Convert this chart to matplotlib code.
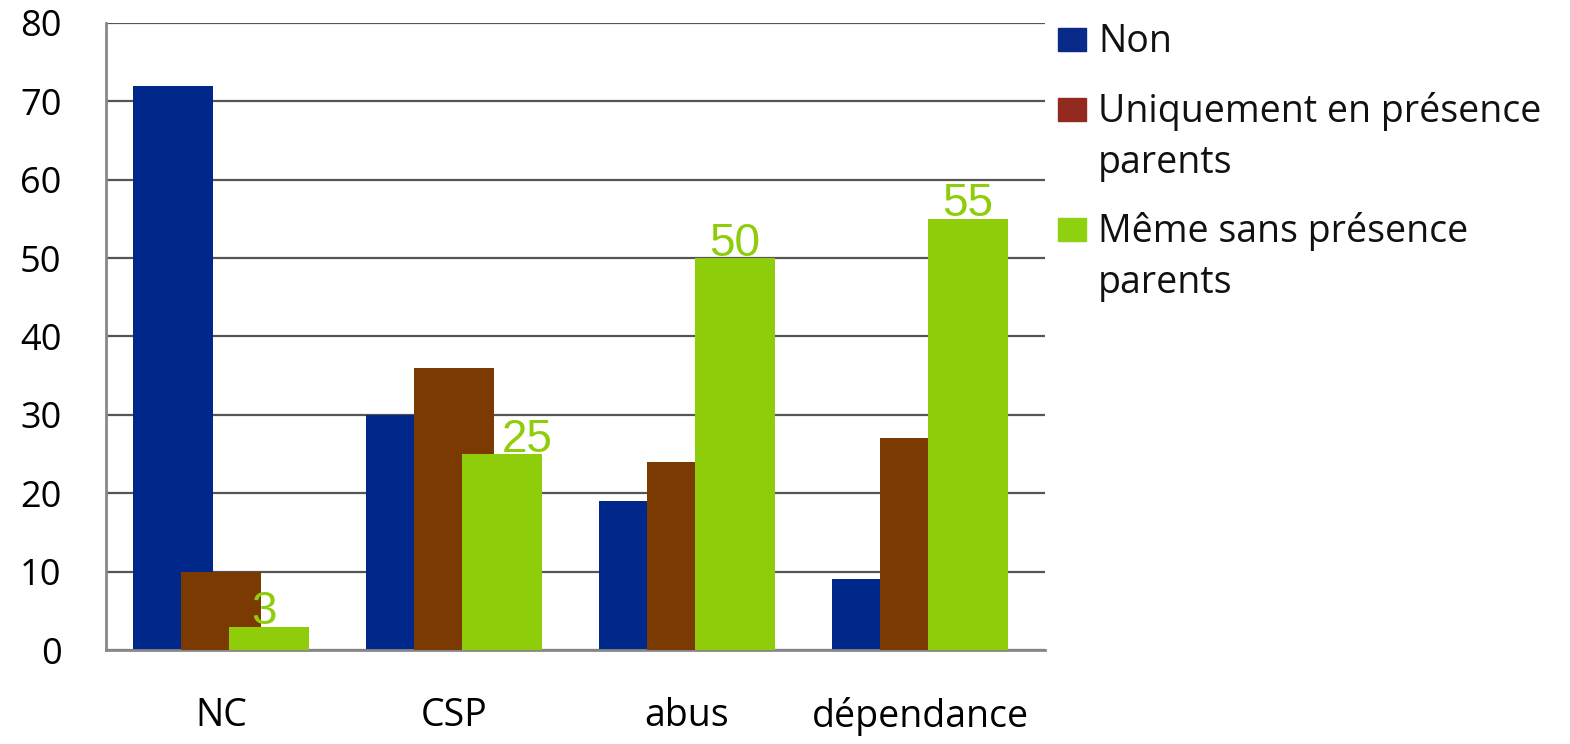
import numpy as np
import matplotlib.pyplot as plt
from matplotlib.patches import Rectangle

# data
categories = ['NC', 'CSP', 'abus', 'dépendance']
non = [72, 30, 19, 9]
uniquement = [10, 36, 24, 27]
meme_sans = [3, 25, 50, 55]
series_names = ['Non', 'Uniquement en présence\nparents', 'Même sans présence\nparents']

blue = '#00288a'
brown = '#7a3a02'
green = '#8fcc0a'
legend_colors = ['#0a2a8a', '#922a20', '#8fd010']

plt.rcParams['font.family'] = ['Open Sans', 'DejaVu Sans']

W, H = 1570, 744
fig = plt.figure(figsize=(W / 100, H / 100), dpi=100)
ax = fig.add_axes([0.0675, 0.1263, 0.598, 0.843])

x = np.arange(len(categories))
w = 0.343
step = 0.206

ax.bar(x - step, non, width=w, color=blue, zorder=2)
ax.bar(x, uniquement, width=w, color=brown, zorder=3)
gb = ax.bar(x + step, meme_sans, width=w, color=green, zorder=4)

# labels on green bars only
shifts = [-0.02, 0.107, 0, 0]
for i, r in enumerate(gb):
    ax.text(r.get_x() + r.get_width() / 2 + shifts[i], r.get_height() + 0.3,
            str(meme_sans[i]), ha='center', va='baseline', color=green,
            fontsize=33, family='Liberation Sans', zorder=5)

ax.set_xlim(-0.494, 3.536)
ax.set_ylim(0, 80)
ax.set_yticks(range(0, 81, 10))
ax.set_xticks(x)
ax.set_xticklabels(categories)
ax.yaxis.grid(True, color='#555555', linewidth=1.6, zorder=0)
ax.set_axisbelow(True)
ax.tick_params(axis='y', length=0, pad=32, labelsize=26)
ax.tick_params(axis='x', length=0, pad=34, labelsize=27)
for s in ['top', 'right']:
    ax.spines[s].set_visible(False)
ax.spines['left'].set_color('#888888')
ax.spines['left'].set_linewidth(2)
ax.spines['bottom'].set_color('#888888')
ax.spines['bottom'].set_linewidth(2)

# legend drawn by hand: marker beside the first line of each label
first_baselines = [52, 122, 242]
line_gap = 51
for name, col, base in zip(series_names, legend_colors, first_baselines):
    fig.patches.append(Rectangle((1058 / W, 1 - (base - 1) / H), 28 / W, 23 / H,
                                 transform=fig.transFigure, color=col))
    for k, line in enumerate(name.split('\n')):
        fig.text(1098 / W, 1 - (base + k * line_gap) / H, line, fontsize=27,
                 va='baseline', ha='left', color='#111111')

fig.savefig('out.png', dpi=100)
